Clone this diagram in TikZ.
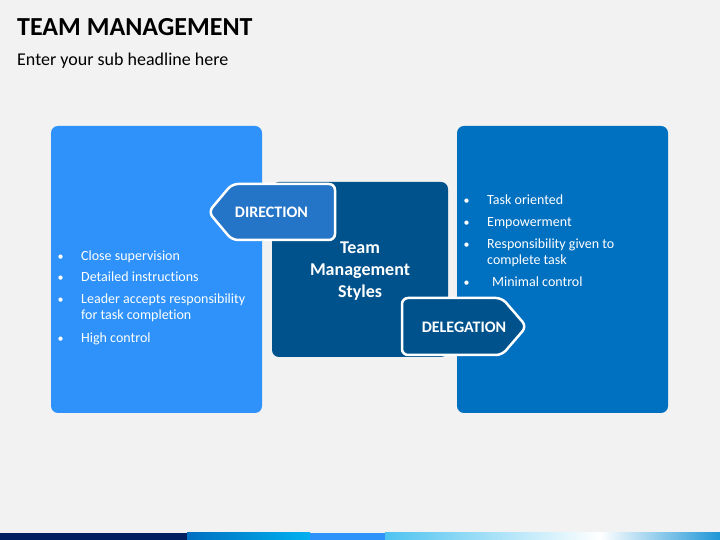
\documentclass[tikz,border=0pt]{standalone}
\usepackage{fontspec}
\setmainfont[Ligatures=NoCommon]{Carlito}
\usepackage{tikz}
\usetikzlibrary{positioning}
\definecolor{bgColor}{RGB}{242,242,242}
\definecolor{leftColor}{RGB}{46,146,250}
\definecolor{rightColor}{RGB}{0,112,192}
\definecolor{midColor}{RGB}{0,82,140}
\definecolor{dirColor}{RGB}{36,116,200}
\definecolor{navyColor}{RGB}{0,32,96}
\definecolor{cyanColor}{RGB}{0,176,240}
\definecolor{skyColor}{RGB}{78,195,240}
\definecolor{edgeColor}{RGB}{30,150,215}

\begin{document}
\begin{tikzpicture}[x=1pt,y=1pt,
	box/.style={rounded corners=7pt,minimum width=211pt,minimum height=287pt,inner sep=0pt},
	tag/.style={draw=white,line width=2.5pt,rounded corners=6pt},
	tagtext/.style={text=white,inner sep=0pt,font=\fontsize{16}{19}\selectfont\bfseries},
	item/.style={text=white,anchor=base west,inner sep=0pt,font=\fontsize{14}{16}\selectfont},
	dot/.style={text=white,anchor=base,inner sep=0pt,font=\fontsize{12}{16}\selectfont}]
\useasboundingbox (0,0) rectangle (720,540);
\fill[bgColor] (0,0) rectangle (720,540);
%
% headline
\node[anchor=base west,inner sep=0pt,font=\fontsize{26}{30}\selectfont\bfseries] (title) at (17,504) {TEAM MANAGEMENT};
\node[anchor=base west,inner sep=0pt,font=\fontsize{18}{22}\selectfont] (subtitle) at (17,474) {Enter your sub headline here};
%
% the three panels
\node[box,fill=leftColor] (leftBox) at (156.5,270.5) {};
\node[box,fill=rightColor] (rightBox) at (562.5,270.5) {};
\node[fill=midColor,rounded corners=7pt,minimum width=176pt,minimum height=175pt,inner sep=0pt] (midBox) at (360,270.5) {};
\node[align=center,text=white,font=\fontsize{18}{22}\selectfont\bfseries] (midText) at (360,268.5) {Team\\Management\\Styles};
%
% tags
\draw[tag,fill=dirColor] (208.5,328) -- (232,356) -- (335,356) -- (335,300) -- (232,300) -- cycle;
\node[tagtext] (dirText) at (271.5,327.5) {DIRECTION};
\draw[tag,fill=midColor] (526.5,213.5) -- (502,242) -- (402,242) -- (402,185) -- (502,185) -- cycle;
\node[tagtext] (delText) at (464,213) {DELEGATION};
%
% bullet lists
\foreach \i/\y in {1/279,2/258,3/236,4/197}
	\node[dot] (leftDot-\i) at (60.7,\y) {•};
\foreach \i/\y/\t in {1/279/Close supervision,2/258/Detailed instructions,3/236/Leader accepts responsibility,4/220/for task completion,5/197/High control}
	\node[item] (leftLine-\i) at (81,\y) {\t};
\foreach \i/\y in {1/335,2/313,3/291,4/253}
	\node[dot] (rightDot-\i) at (466.7,\y) {•};
\foreach \i/\y/\x/\t in {1/335/487/Task oriented,2/313/487/Empowerment,3/291/487/Responsibility given to,4/275/487/complete task,5/253/492/Minimal control}
	\node[item] (rightLine-\i) at (\x,\y) {\t};
%
% bottom strip
\fill[navyColor] (0,0) rectangle (187,7);
\shade[left color=rightColor,right color=cyanColor] (187,0) rectangle (310,7);
\fill[leftColor] (310,0) rectangle (385,7);
\shade[left color=skyColor,right color=white] (385,0) rectangle (600,7);
\shade[left color=white,right color=edgeColor] (600,0) rectangle (720,7);
%
\end{tikzpicture}
\end{document}
